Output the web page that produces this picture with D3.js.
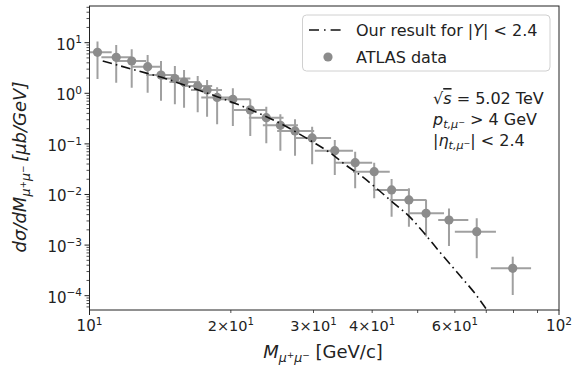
<!DOCTYPE html>
<html>
<head>
<meta charset="utf-8">
<script src="https://cdn.jsdelivr.net/npm/d3@7"></script>
<style>
  body { margin: 0; background: #fff; }
  svg { font-family: 'DejaVu Sans', sans-serif; }
</style>
</head>
<body>
<svg id="chart" width="573" height="366"></svg>
<script>
// ATLAS points (GeV/c, ub/GeV)
const atlasMass = [10.4, 11.4, 12.3, 13.3, 14.2, 15.2, 15.9, 17.0, 17.8, 18.7, 20.2, 22.0, 23.8, 25.5, 27.4, 29.8, 33.3, 36.8, 40.4, 44.0, 47.9, 52.1, 58.3, 66.8, 79.7];
const atlasMassLow = [10.0, 10.6, 11.4, 12.3, 13.2, 14.1, 14.8, 15.75, 16.45, 17.3, 18.6, 20.3, 21.85, 23.4, 25.1, 27.3, 30.2, 33.3, 36.4, 40.2, 43.6, 48.1, 55.3, 60.0, 71.6];
const atlasMassHigh = [11.15, 12.3, 13.2, 14.25, 15.3, 16.4, 17.2, 18.25, 19.15, 20.2, 22.0, 23.8, 25.9, 27.8, 30.1, 32.7, 36.4, 40.0, 43.6, 48.1, 52.2, 56.9, 64.1, 73.4, 87.2];
const atlasSigma = [6.45, 5.14, 4.35, 3.36, 2.3, 1.95, 1.67, 1.39, 1.16, 0.83, 0.76, 0.47, 0.33, 0.233, 0.18, 0.131, 0.0734, 0.0425, 0.0282, 0.0123, 0.0078, 0.00425, 0.00313, 0.00184, 0.000348];
const atlasSigmaHigh = [10.5, 9.0, 7.4, 5.7, 4.35, 3.47, 2.88, 2.2, 1.83, 1.31, 1.26, 0.76, 0.54, 0.385, 0.306, 0.219, 0.119, 0.070, 0.0425, 0.0202, 0.0133, 0.0078, 0.0053, 0.0034, 0.00059];
const atlasSigmaLow = [1.92, 1.62, 1.29, 1.03, 0.71, 0.61, 0.52, 0.42, 0.345, 0.244, 0.226, 0.143, 0.103, 0.073, 0.058, 0.0395, 0.0243, 0.0133, 0.0084, 0.00364, 0.00231, 0.00147, 0.00096, 0.00055, 0.000103];

// our result, |Y| < 2.4
const curveMass = [10.67, 12.5, 14.6, 16.5, 18.7, 22, 25.5, 29.8, 32.5, 35.3, 38, 41.2, 44, 48.1, 51, 55.8, 61.5, 66, 71];
const curveSigma = [4.35, 2.88, 1.92, 1.29, 0.857, 0.477, 0.253, 0.111, 0.067, 0.037, 0.0230, 0.0124, 0.0073, 0.0036, 0.00196, 0.00072, 0.00025, 0.000115, 4.5e-5];

const xMajor = [10, 100];
const xMinorLabelled = [20, 30, 40, 60];
const xMinor = [50, 70, 80, 90];
const yDecades = [-4, -3, -2, -1, 0, 1];

const svg = d3.select('#chart');
const pLeft = 89.5, pRight = 559, pTop = 6, pBottom = 310;

const x = d3.scaleLog().domain([10, 100]).range([pLeft, pRight]);
const y = d3.scaleLog().domain([Math.pow(10, -4.283), Math.pow(10, 1.725)]).range([pBottom, pTop]);

const grey = '#8c8c8c';
const barGrey = '#a0a0a0';
const ink = '#222';

// little mathtext helper: [text, level, italic]
const levels = {
  base: { dy: 0, s: 1 },
  sup: { dy: -0.42, s: 0.7 },
  sub: { dy: 0.24, s: 0.7 },
  subsup: { dy: 0.0, s: 0.5 }
};
function mtext(sel, parts, fs) {
  let cur = 0;
  parts.forEach(([t, lv, it]) => {
    const L = levels[lv];
    sel.append('tspan')
      .attr('dy', ((L.dy - cur) * fs).toFixed(2))
      .attr('font-size', L.s * fs)
      .attr('font-style', it ? 'italic' : 'normal')
      .text(t);
    cur = L.dy;
  });
  return sel;
}

svg.append('clipPath').attr('id', 'clip')
  .append('rect').attr('x', pLeft).attr('y', pTop)
  .attr('width', pRight - pLeft).attr('height', pBottom - pTop);

const plot = svg.append('g').attr('clip-path', 'url(#clip)');

// error bars
const idx = d3.range(atlasMass.length);
plot.selectAll('line.ey').data(idx).join('line')
  .attr('x1', i => x(atlasMass[i])).attr('x2', i => x(atlasMass[i]))
  .attr('y1', i => y(atlasSigmaLow[i])).attr('y2', i => y(atlasSigmaHigh[i]))
  .attr('stroke', barGrey).attr('stroke-width', 2);
plot.selectAll('line.ex').data(idx).join('line')
  .attr('x1', i => x(atlasMassLow[i])).attr('x2', i => x(atlasMassHigh[i]))
  .attr('y1', i => y(atlasSigma[i])).attr('y2', i => y(atlasSigma[i]))
  .attr('stroke', barGrey).attr('stroke-width', 2);
plot.selectAll('circle').data(idx).join('circle')
  .attr('cx', i => x(atlasMass[i])).attr('cy', i => y(atlasSigma[i]))
  .attr('r', 4.6).attr('fill', grey);

// theory curve
const line = d3.line()
  .x(i => x(curveMass[i]))
  .y(i => y(curveSigma[i]))
  .curve(d3.curveMonotoneX);
plot.append('path')
  .attr('d', line(d3.range(curveMass.length)))
  .attr('fill', 'none').attr('stroke', '#111').attr('stroke-width', 1.6)
  .attr('stroke-dasharray', '9.5,4,1.6,4');

// frame
svg.append('rect').attr('x', pLeft).attr('y', pTop)
  .attr('width', pRight - pLeft).attr('height', pBottom - pTop)
  .attr('fill', 'none').attr('stroke', ink).attr('stroke-width', 1);

// x ticks
const xt = svg.append('g');
xMajor.concat(xMinorLabelled, xMinor).forEach(v => {
  const major = xMajor.includes(v);
  xt.append('line').attr('x1', x(v)).attr('x2', x(v))
    .attr('y1', pBottom).attr('y2', pBottom + (major ? 5 : 3))
    .attr('stroke', ink).attr('stroke-width', major ? 1 : 0.8);
});
xMajor.forEach(v => {
  const t = xt.append('text').attr('x', x(v)).attr('y', 331)
    .attr('text-anchor', 'middle').attr('font-size', 15).attr('fill', ink);
  mtext(t, [['10', 'base'], [String(Math.log10(v)), 'sup']], 15);
});
xMinorLabelled.forEach(v => {
  const t = xt.append('text').attr('x', x(v)).attr('y', 331)
    .attr('text-anchor', 'middle').attr('font-size', 14.5).attr('fill', ink);
  mtext(t, [[(v / 10) + '\u00d710', 'base'], ['1', 'sup']], 14.5);
});

// y ticks
const yt = svg.append('g');
yDecades.forEach(p => {
  yt.append('line').attr('x1', pLeft - 5).attr('x2', pLeft)
    .attr('y1', y(Math.pow(10, p))).attr('y2', y(Math.pow(10, p)))
    .attr('stroke', ink).attr('stroke-width', 1);
  const t = yt.append('text').attr('x', 82).attr('y', y(Math.pow(10, p)) + 7)
    .attr('text-anchor', 'end').attr('font-size', 15).attr('fill', ink);
  mtext(t, [['10', 'base'], [(p < 0 ? '\u2212' : '') + Math.abs(p), 'sup']], 15);
});
d3.range(-5, 2).forEach(p => {
  d3.range(2, 10).forEach(m => {
    const v = m * Math.pow(10, p);
    if (y(v) < pTop || y(v) > pBottom) return;
    yt.append('line').attr('x1', pLeft - 3).attr('x2', pLeft)
      .attr('y1', y(v)).attr('y2', y(v))
      .attr('stroke', ink).attr('stroke-width', 0.8);
  });
});

// axis labels
const xl = svg.append('text').attr('x', 323).attr('y', 357.5)
  .attr('text-anchor', 'middle').attr('font-size', 18).attr('fill', ink);
mtext(xl, [['M', 'base', true], ['\u03bc', 'sub', true], ['+', 'subsup'], ['\u03bc', 'sub', true], ['\u2212', 'subsup'], ['  [GeV/c]', 'base']], 18);

const yl = svg.append('text').attr('transform', 'translate(26,167) rotate(-90)')
  .attr('text-anchor', 'middle').attr('font-size', 18).attr('fill', ink);
mtext(yl, [['d\u03c3/dM', 'base', true], ['\u03bc', 'sub', true], ['+', 'subsup'], ['\u03bc', 'sub', true], ['\u2212', 'subsup'], ['\u2009[\u03bcb/GeV]', 'base', true]], 18);

// legend
const lg = svg.append('g');
lg.append('rect').attr('x', 302.5).attr('y', 15).attr('width', 247.5).attr('height', 56)
  .attr('rx', 4).attr('fill', '#fff').attr('fill-opacity', 0.8)
  .attr('stroke', '#d0d0d0').attr('stroke-width', 1);
lg.append('line').attr('x1', 309).attr('x2', 343).attr('y1', 30).attr('y2', 30)
  .attr('stroke', '#111').attr('stroke-width', 1.6).attr('stroke-dasharray', '10,5,1.6,5');
lg.append('circle').attr('cx', 328).attr('cy', 57).attr('r', 4.6).attr('fill', grey);
const l1 = lg.append('text').attr('x', 356).attr('y', 36).attr('font-size', 16).attr('fill', ink);
mtext(l1, [['Our result for |', 'base'], ['Y', 'base', true], ['| < 2.4', 'base']], 16);
lg.append('text').attr('x', 356).attr('y', 62.5).attr('font-size', 16).attr('fill', ink).text('ATLAS data');

// annotation
const ann = svg.append('g').attr('font-size', 16).attr('fill', ink);
const a1 = ann.append('text').attr('x', 433).attr('y', 104);
a1.append('tspan').text('\u221a');
a1.append('tspan').attr('font-style', 'italic').style('text-decoration', 'overline').text('s');
a1.append('tspan').text(' = 5.02 TeV');
const a2 = ann.append('text').attr('x', 433).attr('y', 124.5);
mtext(a2, [['p', 'base', true], ['t,\u03bc', 'sub', true], ['\u2212', 'subsup'], [' > 4 GeV', 'base']], 16);
const a3 = ann.append('text').attr('x', 433).attr('y', 145.5);
mtext(a3, [['|', 'base'], ['\u03b7', 'base', true], ['t,\u03bc', 'sub', true], ['\u2212', 'subsup'], ['| < 2.4', 'base']], 16);
</script>
</body>
</html>
